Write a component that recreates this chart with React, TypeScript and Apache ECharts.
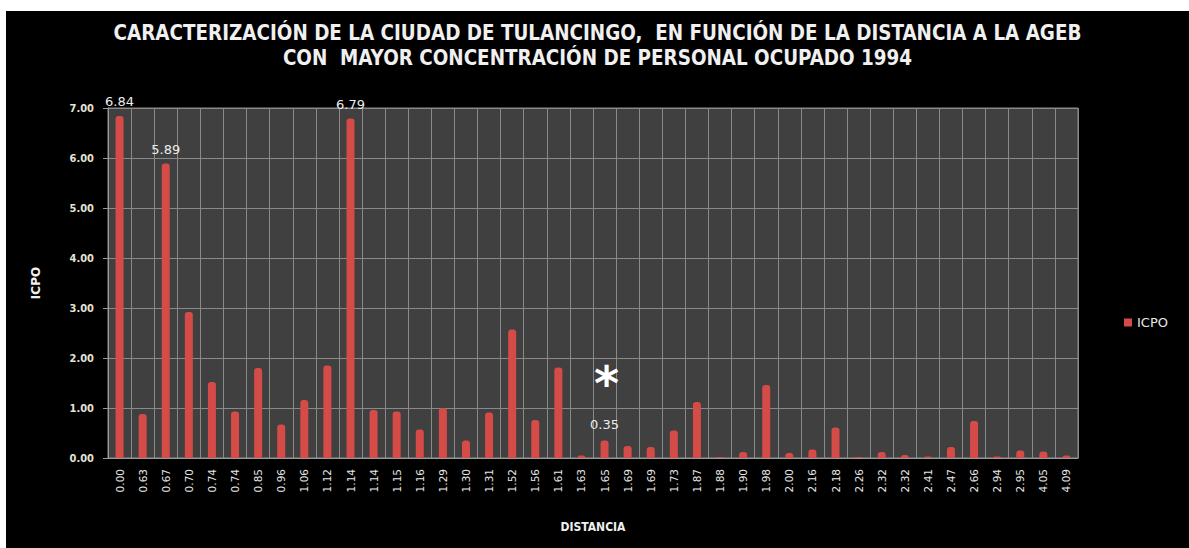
import React, { useEffect, useRef } from "react";
import * as echarts from "echarts";

const titleLines = [
  "CARACTERIZACIÓN DE LA CIUDAD DE TULANCINGO,  EN FUNCIÓN DE LA DISTANCIA A LA AGEB",
  "CON  MAYOR CONCENTRACIÓN DE PERSONAL OCUPADO 1994",
];
const seriesName = "ICPO";
const xAxisName = "DISTANCIA";
const yAxisName = "ICPO";

const distances = [
  "0.00", "0.63", "0.67", "0.70", "0.74", "0.74", "0.85", "0.96", "1.06", "1.12",
  "1.14", "1.14", "1.15", "1.16", "1.29", "1.30", "1.31", "1.52", "1.56", "1.61",
  "1.63", "1.65", "1.69", "1.69", "1.73", "1.87", "1.88", "1.90", "1.98", "2.00",
  "2.16", "2.18", "2.26", "2.32", "2.32", "2.41", "2.47", "2.66", "2.94", "2.95",
  "4.05", "4.09",
];
const icpo = [
  6.84, 0.88, 5.89, 2.92, 1.52, 0.93, 1.8, 0.67, 1.16, 1.85,
  6.79, 0.96, 0.93, 0.57, 1.0, 0.35, 0.91, 2.57, 0.76, 1.81,
  0.05, 0.35, 0.24, 0.22, 0.55, 1.12, 0.02, 0.12, 1.46, 0.1,
  0.17, 0.61, 0.02, 0.12, 0.06, 0.03, 0.22, 0.74, 0.03, 0.15,
  0.13, 0.05,
];
const labeledIndices = [0, 2, 10, 21];
const starredIndices = [21];

const yMin = 0;
const yMax = 7;
const yInterval = 1;

export default function App() {
  const ref = useRef<HTMLDivElement>(null);

  useEffect(() => {
    if (!ref.current) return;
    const chart = echarts.init(ref.current, undefined, { renderer: "svg" });
    const data = icpo.map((v, i) => {
      const show = labeledIndices.includes(i);
      const starred = starredIndices.includes(i);
      return {
        value: v,
        label: {
          show,
          formatter: starred ? "{s|*}\n{v|" + v.toFixed(2) + "}" : v.toFixed(2),
        },
      };
    });
    chart.setOption({
      animation: false,
      backgroundColor: "#000000",
      title: {
        text: titleLines.join("\n"),
        left: "center",
        top: 4,
        textStyle: {
          color: "#f0f0f0",
          fontFamily: "Liberation Sans Narrow, DejaVu Sans Condensed, sans-serif",
          fontWeight: "bold",
          fontSize: 20.4,
          lineHeight: 25,
        },
      },
      legend: {
        data: [seriesName],
        left: 1113,
        top: 300,
        itemWidth: 8,
        itemHeight: 8,
        icon: "rect",
        textStyle: { color: "#e8e8e8", fontSize: 13, fontFamily: "DejaVu Sans, sans-serif" },
      },
      grid: {
        left: 102,
        right: 111,
        top: 97,
        bottom: 90,
        show: true,
        backgroundColor: "#404040",
        borderColor: "#8a8a8a",
        borderWidth: 1,
      },
      xAxis: {
        type: "category",
        data: distances,
        name: xAxisName,
        nameLocation: "middle",
        nameGap: 63,
        nameTextStyle: {
          color: "#f0f0f0",
          fontWeight: "bold",
          fontSize: 12,
          fontFamily: "Liberation Sans Narrow, DejaVu Sans Condensed, sans-serif",
        },
        axisLine: { lineStyle: { color: "#9a9a9a" } },
        axisTick: { show: false },
        axisLabel: {
          interval: 0,
          rotate: 90,
          color: "#e6e6e6",
          fontSize: 10.5,
          margin: 11,
          fontFamily: "DejaVu Sans, sans-serif",
        },
        splitLine: { show: true, interval: 0, lineStyle: { color: "#8a8a8a", width: 1 } },
      },
      yAxis: {
        type: "value",
        min: yMin,
        max: yMax,
        interval: yInterval,
        name: yAxisName,
        nameLocation: "middle",
        nameGap: 66,
        nameRotate: 90,
        nameTextStyle: {
          color: "#f0f0f0",
          fontWeight: "bold",
          fontSize: 12,
          fontFamily: "DejaVu Sans, sans-serif",
        },
        axisLine: { show: true, lineStyle: { color: "#9a9a9a" } },
        axisTick: { show: true, length: 5, lineStyle: { color: "#9a9a9a" } },
        axisLabel: {
          color: "#e6e2d6",
          fontSize: 11,
          fontWeight: "bold",
          margin: 14,
          fontFamily: "DejaVu Sans Condensed, DejaVu Sans, sans-serif",
          formatter: (v: number) => v.toFixed(2),
        },
        splitLine: { show: true, lineStyle: { color: "#8a8a8a", width: 1 } },
      },
      series: [
        {
          name: seriesName,
          type: "bar",
          data,
          barWidth: 8,
          itemStyle: { color: "#d44b47", borderRadius: [3, 3, 0, 0] },
          label: {
            position: "top",
            distance: 8,
            color: "#ececec",
            fontSize: 13,
            fontFamily: "DejaVu Sans, sans-serif",
            rich: {
              s: {
                fontSize: 48,
                fontWeight: "bold",
                color: "#ffffff",
                lineHeight: 68,
                padding: [0, 0, 0, 4],
                fontFamily: "DejaVu Sans, sans-serif",
              },
              v: {
                fontSize: 13,
                color: "#ececec",
                lineHeight: 16,
                fontFamily: "DejaVu Sans, sans-serif",
              },
            },
          },
        },
      ],
    });
    return () => chart.dispose();
  }, []);

  return (
    <div style={{ position: "fixed", left: 0, top: 0, width: 1189, height: 548, background: "#ffffff" }}>
      <div
        ref={ref}
        style={{ position: "absolute", left: 6, top: 11, width: 1183, height: 537 }}
      />
    </div>
  );
}
